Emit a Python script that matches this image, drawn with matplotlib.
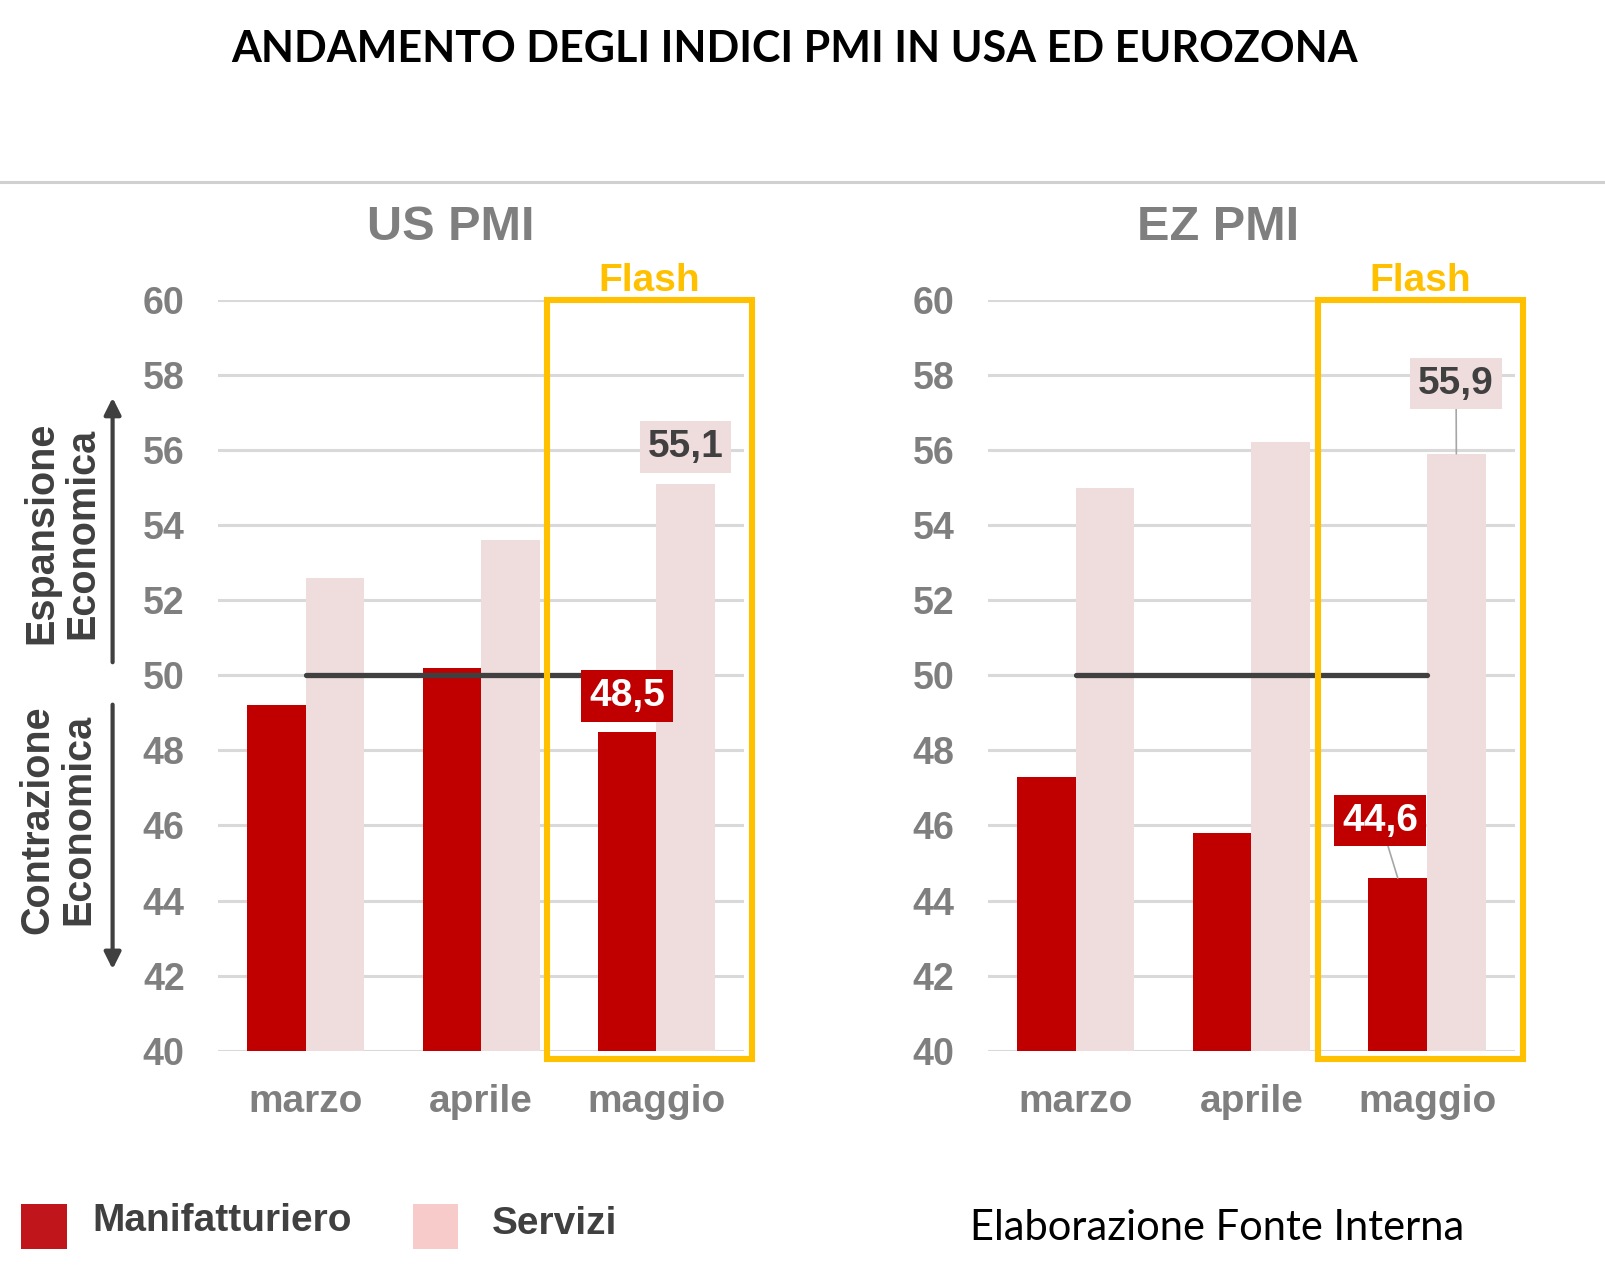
import matplotlib
matplotlib.use("Agg")
import matplotlib.pyplot as plt
from matplotlib.patches import Rectangle, FancyArrowPatch
from matplotlib.lines import Line2D
import numpy as np

# dati
mesi = ["marzo", "aprile", "maggio"]
us_manif = [49.2, 50.2, 48.5]
us_serv = [52.6, 53.6, 55.1]
ez_manif = [47.3, 45.8, 44.6]
ez_serv = [55.0, 56.2, 55.9]
soglia = [50, 50, 50]
y_ticks = [40, 42, 44, 46, 48, 50, 52, 54, 56, 58, 60]

ROSSO = "#C00000"
ROSA = "#EFDCDD"
GIALLO = "#FFC000"
GRIGIO = "#7F7F7F"
SCURO = "#404040"
ARIAL = ["Liberation Sans", "DejaVu Sans"]
CALIBRI = ["Lato", "Open Sans", "DejaVu Sans"]

W, H = 1568.0, 1254.0


def fx(x):
    return x / W


def fy(y):
    return 1 - y / H


fig = plt.figure(figsize=(16.05, 12.83), dpi=100)
fig.patch.set_facecolor("white")

fig.text(fx(776), fy(48), "ANDAMENTO DEGLI INDICI PMI IN USA ED EUROZONA",
         ha="center", va="center", fontsize=31, fontweight="bold",
         family=CALIBRI, color="black")
fig.add_artist(Line2D([0, 1], [fy(178), fy(178)], transform=fig.transFigure,
                      color="#D0D0D0", lw=2.2))


def pannello(left, right, titolo, tit_x, manif, serv, lab_m, lab_s):
    ax = fig.add_axes([fx(left), fy(1027), fx(right) - fx(left), fy(293) - fy(1027)])
    x = np.arange(len(mesi))
    w = 1 / 3
    ax.bar(x - w / 2, manif, w, color=ROSSO, zorder=2)
    ax.bar(x + w / 2, serv, w, color=ROSA, zorder=2)
    ax.plot(x, soglia, color=SCURO, lw=3.8, solid_capstyle="round", zorder=3)
    ax.set_xlim(-0.5, 2.5)
    ax.set_ylim(40, 60)
    ax.set_yticks(y_ticks)
    ax.set_yticklabels([str(t) for t in y_ticks], fontsize=27, fontweight="bold",
                       color=GRIGIO, family=ARIAL)
    ax.set_xticks(x)
    ax.set_xticklabels(mesi, fontsize=28, fontweight="bold", color=GRIGIO, family=ARIAL)
    ax.tick_params(length=0, axis="y", pad=24)
    ax.tick_params(length=0, axis="x", pad=24)
    ax.grid(axis="y", color="#D9D9D9", lw=2.2, zorder=0)
    ax.set_axisbelow(True)
    for s in ax.spines.values():
        s.set_visible(False)
    # riquadro flash
    ax.add_patch(Rectangle((1.377, 39.78), 1.17, 20.22, fill=False, ec=GIALLO,
                           lw=4.4, clip_on=False, zorder=4))
    ax.text(1.96, 60.5, "Flash", ha="center", va="center", fontsize=28,
            fontweight="bold", color=GIALLO, family=ARIAL)
    fig.text(fx(tit_x), fy(222), titolo, ha="center", va="center", fontsize=35,
             fontweight="bold", color=GRIGIO, family=ARIAL)
    # etichette
    (mx, my, mlead), (sx, sy, slead) = lab_m, lab_s
    ax.annotate(f"{manif[2]:.1f}".replace(".", ","), xy=(2 - w / 2, manif[2]),
                xytext=(mx, my), ha="center", va="center", fontsize=28,
                fontweight="bold", color="white", family=ARIAL, zorder=6,
                bbox=dict(boxstyle="square,pad=0.2", fc=ROSSO, ec="none"),
                arrowprops=dict(arrowstyle="-", color="#A6A6A6", lw=1.2,
                                shrinkA=0, shrinkB=0) if mlead else None)
    ax.annotate(f"{serv[2]:.1f}".replace(".", ","), xy=(2 + w / 2, serv[2]),
                xytext=(sx, sy), ha="center", va="center", fontsize=28,
                fontweight="bold", color=SCURO, family=ARIAL, zorder=6,
                bbox=dict(boxstyle="square,pad=0.2", fc=ROSA, ec="none"),
                arrowprops=dict(arrowstyle="-", color="#A6A6A6", lw=1.2,
                                shrinkA=0, shrinkB=0) if slead else None)
    return ax


pannello(213, 727, "US PMI", 440, us_manif, us_serv,
         (1.832, 49.45, False), (2.165, 56.08, False))
pannello(965, 1480, "EZ PMI", 1190, ez_manif, ez_serv,
         (1.733, 46.13, True), (2.165, 57.77, True))

# frecce a sinistra
fig.add_artist(FancyArrowPatch(
    (fx(110), fy(650)), (fx(110), fy(386)), transform=fig.transFigure,
    arrowstyle="-|>,head_length=10,head_width=5", color=SCURO, lw=3.0))
fig.add_artist(FancyArrowPatch(
    (fx(110), fy(686)), (fx(110), fy(950)), transform=fig.transFigure,
    arrowstyle="-|>,head_length=10,head_width=5", color=SCURO, lw=3.0))
fig.text(fx(60), fy(521), "Espansione\nEconomica", rotation=90, ha="center",
         va="center", fontsize=28.5, fontweight="bold", color=SCURO, family=ARIAL,
         linespacing=1.1)
fig.text(fx(57), fy(801), "Contrazione\nEconomica", rotation=90, ha="center",
         va="center", fontsize=28.5, fontweight="bold", color=SCURO, family=ARIAL,
         linespacing=1.1)

# legenda
fig.add_artist(Rectangle((fx(21), fy(1221)), fx(44), fy(0) - fy(44),
                         transform=fig.transFigure, fc="#C0161B", ec="none"))
fig.add_artist(Rectangle((fx(403), fy(1221)), fx(44), fy(0) - fy(44),
                         transform=fig.transFigure, fc="#F8CBCB", ec="none"))
fig.text(fx(90), fy(1193), "Manifatturiero", ha="left", va="center", fontsize=28,
         fontweight="bold", color=SCURO, family=ARIAL)
fig.text(fx(481), fy(1196), "Servizi", ha="left", va="center", fontsize=28,
         fontweight="bold", color=SCURO, family=ARIAL)
fig.text(fx(948), fy(1200), "Elaborazione Fonte Interna", ha="left", va="center",
         fontsize=30, color="black", family=CALIBRI)

fig.savefig("out.png", dpi=100, facecolor="white")
